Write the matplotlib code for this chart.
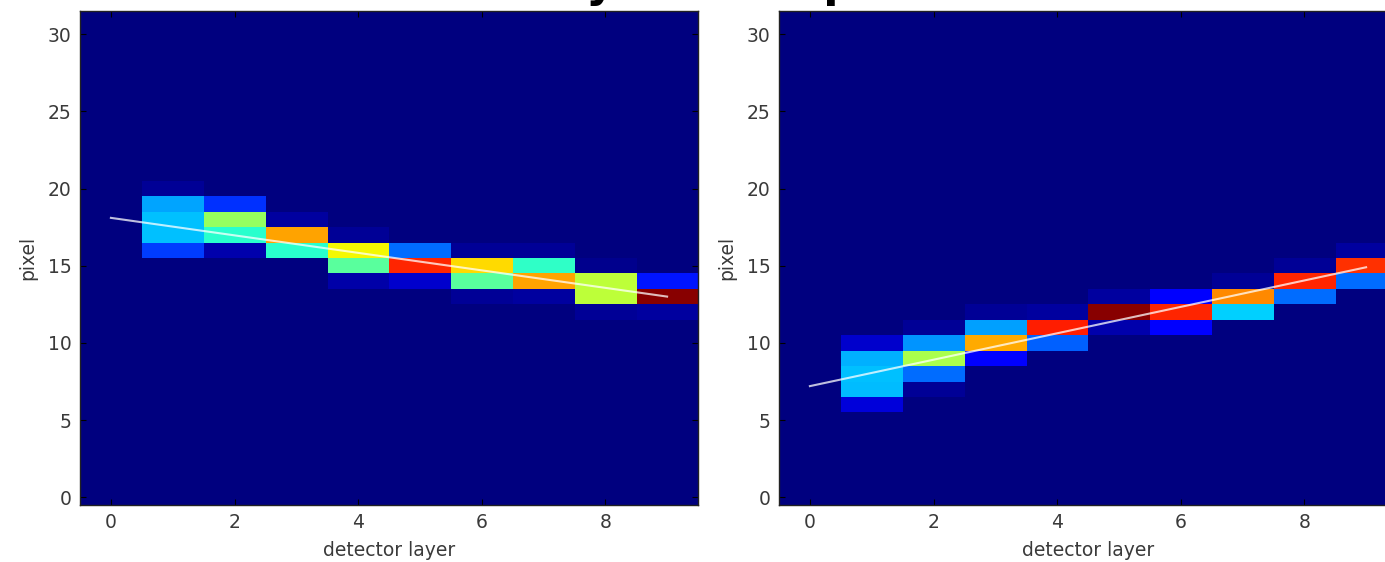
import numpy as np
import matplotlib
matplotlib.use("Agg")
import matplotlib.pyplot as plt

N_LAYERS = 10
N_PIXELS = 32

# Hit intensities per detector layer: {pixel: value}
left_hits = [
    {},
    {20: 0.02, 19: 0.287, 18: 0.315, 17: 0.315, 16: 0.184},
    {19: 0.174, 18: 0.532, 17: 0.40, 16: 0.04},
    {18: 0.03, 17: 0.735, 16: 0.40},
    {17: 0.02, 16: 0.645, 15: 0.46, 14: 0.037},
    {16: 0.233, 15: 0.868, 14: 0.07},
    {16: 0.02, 15: 0.677, 14: 0.46, 13: 0.02},
    {16: 0.02, 15: 0.41, 14: 0.735, 13: 0.03},
    {15: 0.015, 14: 0.581, 13: 0.581, 12: 0.02},
    {14: 0.145, 13: 0.99, 12: 0.03},
]
right_hits = [
    {},
    {10: 0.07, 9: 0.30, 8: 0.315, 7: 0.31, 6: 0.08},
    {11: 0.02, 10: 0.272, 9: 0.557, 8: 0.233, 7: 0.02},
    {12: 0.02, 11: 0.282, 10: 0.73, 9: 0.12},
    {12: 0.03, 11: 0.878, 10: 0.22},
    {13: 0.03, 12: 0.99, 11: 0.04},
    {13: 0.12, 12: 0.868, 11: 0.12},
    {14: 0.02, 13: 0.762, 12: 0.33},
    {15: 0.02, 14: 0.868, 13: 0.233},
    {16: 0.03, 15: 0.857, 14: 0.233},
]

# Fitted track lines (layer, pixel) end points
left_fit_x = [0, 9]
left_fit_y = [18.1, 13.0]
right_fit_x = [0, 9]
right_fit_y = [7.2, 14.9]

x_ticks = [0, 2, 4, 6, 8]
y_ticks = [0, 5, 10, 15, 20, 25, 30]
title_text = "Hit density and output"


def to_image(hits):
    img = np.zeros((N_PIXELS, N_LAYERS))
    for layer, col in enumerate(hits):
        for pix, val in col.items():
            img[pix, layer] = val
    return img


W, H = 1385, 562
fig = plt.figure(figsize=(W / 100, H / 100), dpi=100)

txt_color = "#3a3a3a"
ax_w = 618 / W
ax_h = 494 / H
ax_b = (H - 505) / H
lefts = [80 / W, 779 / W]

for left, hits, fx, fy in [
    (lefts[0], left_hits, left_fit_x, left_fit_y),
    (lefts[1], right_hits, right_fit_x, right_fit_y),
]:
    ax = fig.add_axes([left, ax_b, ax_w, ax_h])
    ax.imshow(to_image(hits), cmap="jet", vmin=0, vmax=1, origin="lower",
              interpolation="nearest", aspect="auto",
              extent=(-0.5, N_LAYERS - 0.5, -0.5, N_PIXELS - 0.5))
    ax.plot(fx, fy, color="white", alpha=0.75, lw=1.5)
    ax.set_xlim(-0.5, N_LAYERS - 0.5)
    ax.set_ylim(-0.5, N_PIXELS - 0.5)
    ax.set_xticks(x_ticks)
    ax.set_yticks(y_ticks)
    ax.tick_params(direction="in", top=True, right=True, length=4,
                   labelsize=13.5, labelcolor=txt_color, pad=6)
    ax.set_xlabel("detector layer", fontsize=13.5, color=txt_color, labelpad=6)
    ax.set_ylabel("pixel", fontsize=13.5, color=txt_color, labelpad=8)
    for sp in ax.spines.values():
        sp.set_color("#222222")
        sp.set_linewidth(1.0)

# Figure heading sits above the canvas; only its descenders reach into view
fig.text(340 / W, (H + 3.5) / H, title_text, fontsize=32, fontweight="bold",
         color="black", ha="left", va="baseline")

fig.savefig("out.png", dpi=100)
